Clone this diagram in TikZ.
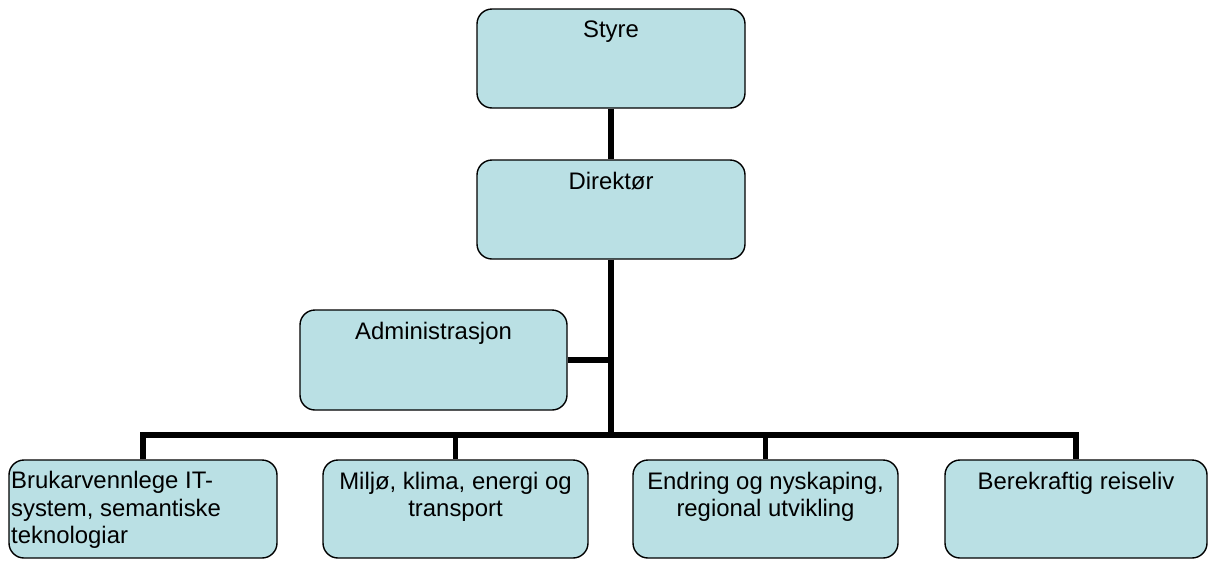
\documentclass[tikz,border=0pt]{standalone}
\usepackage{fontspec}
\setmainfont{Liberation Sans}
\usetikzlibrary{positioning}
\definecolor{boxfill}{RGB}{186,224,228}
\begin{document}
\begin{tikzpicture}[
        orgbox/.style={rectangle, draw, line width=0.8pt, rounded corners=0.3cm, fill=boxfill, minimum width=5.36cm, minimum height=1.98cm},
        boxtext/.style={inner sep=0pt, align=center, font=\fontsize{13.6}{15.4}\selectfont},
        conn/.style={line width=3pt, line join=miter}
    ]
        \useasboundingbox (0, 0) rectangle (24.2, -11.22);

        % Top levels
        \node[orgbox] (sty) at (12.22, -1.17) {};
        \node[boxtext, below=0.25cm of sty.north] (styt) {Styre};
        \node[orgbox] (dir) at (12.22, -4.19) {};
        \node[boxtext, below=0.25cm of dir.north] (dirt) {Direktør};

        % Staff box
        \node[orgbox, minimum width=5.34cm, minimum height=2cm] (adm) at (8.67, -7.2) {};
        \node[boxtext, below=0.25cm of adm.north] (admt) {Administrasjon};

        % Departments
        \node[orgbox, minimum height=1.96cm] (dep1) at (2.86, -10.18) {};
        \node[boxtext, align=left, below right=0.24cm and 0.05cm of dep1.north west] (dep1t) {Brukarvennlege IT-\\system, semantiske\\teknologiar};
        \node[orgbox, minimum width=5.3cm, minimum height=1.96cm] (dep2) at (9.11, -10.18) {};
        \node[boxtext, below=0.25cm of dep2.north] (dep2t) {Miljø, klima, energi og\\transport};
        \node[orgbox, minimum width=5.3cm, minimum height=1.96cm] (dep3) at (15.31, -10.18) {};
        \node[boxtext, below=0.25cm of dep3.north] (dep3t) {Endring og nyskaping,\\regional utvikling};
        \node[orgbox, minimum width=5.24cm, minimum height=1.96cm] (dep4) at (21.52, -10.18) {};
        \node[boxtext, below=0.25cm of dep4.north] (dep4t) {Berekraftig reiseliv};

        % Lines
        \coordinate (bar) at (12.22, -8.7);
        \draw[conn] (sty.south) -- (dir.north);
        \draw[conn] (dir.south) -- (bar);
        \draw[conn] (adm.east) -- (adm.east -| dir.south);
        \draw[conn] (dep1.north) -- (dep1.north |- bar) -- (dep4.north |- bar) -- (dep4.north);
        \draw[conn] (dep2.north |- bar) -- (dep2.north);
        \draw[conn] (dep3.north |- bar) -- (dep3.north);
    \end{tikzpicture}
\end{document}
